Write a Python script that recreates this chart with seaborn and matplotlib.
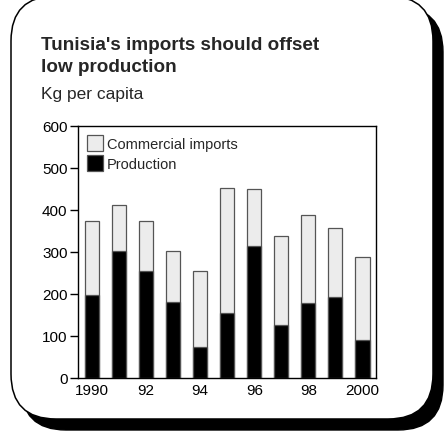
import matplotlib
matplotlib.use("Agg")
import matplotlib.pyplot as plt
from matplotlib.patches import FancyBboxPatch, Patch
import seaborn as sns

years = ["1990", "1991", "1992", "1993", "1994", "1995", "1996", "1997", "1998", "1999", "2000"]
production = [196, 301, 254, 181, 74, 154, 315, 126, 178, 193, 90]
imports = [177, 110, 120, 121, 181, 299, 136, 212, 209, 164, 198]
tick_labels = ["1990", "", "92", "", "94", "", "96", "", "98", "", "2000"]
yticks = [0, 100, 200, 300, 400, 500, 600]

title_lines = ["Tunisia's imports should offset", "low production"]
subtitle = "Kg per capita"
legend_labels = ["Commercial imports", "Production"]

sns.set_style("white")
plt.rcParams["font.family"] = ["Liberation Sans", "DejaVu Sans"]

W, H = 445, 435
fig = plt.figure(figsize=(W / 100, H / 100), dpi=100)

# background frame axes in pixel units
bg = fig.add_axes([0, 0, 1, 1], zorder=0)
bg.set_xlim(0, W)
bg.set_ylim(H, 0)
bg.axis("off")
x0, y0, x1, y1, r = 11, -3, 433, 420, 45
shadow = FancyBboxPatch((x0 + r + 10, y0 + r + 11), (x1 - x0) - 2 * r, (y1 - y0) - 2 * r,
                        boxstyle=f"round,pad={r},rounding_size={r}",
                        facecolor="black", edgecolor="black", linewidth=1.0)
box = FancyBboxPatch((x0 + r, y0 + r), (x1 - x0) - 2 * r, (y1 - y0) - 2 * r,
                     boxstyle=f"round,pad={r},rounding_size={r}",
                     facecolor="white", edgecolor="black", linewidth=1.1)
bg.add_patch(shadow)
bg.add_patch(box)

bg.text(41, 50, title_lines[0], fontsize=13.6, fontweight="bold", va="baseline", ha="left")
bg.text(41, 72, title_lines[1], fontsize=13.6, fontweight="bold", va="baseline", ha="left")
bg.text(41, 99.5, subtitle, fontsize=12.5, va="baseline", ha="left")

# main chart axes
left, right = 78 / W, 376 / W
bottom, top = 1 - 378.7 / H, 1 - 127 / H
ax = fig.add_axes([left, bottom, right - left, top - bottom], zorder=1)
ax.patch.set_alpha(0)

totals = [p + i for p, i in zip(production, imports)]
imp_color = "#ececec"
edge = "#555555"
sns.barplot(x=years, y=totals, color=imp_color, saturation=1, edgecolor=edge,
            linewidth=0.9, width=0.52, ax=ax)
sns.barplot(x=years, y=production, color="black", saturation=1, edgecolor=edge,
            linewidth=0.9, width=0.52, ax=ax)

ax.set_xlim(-0.52, 10.5)
ax.set_ylim(0, 600)
ax.set_yticks(yticks)
ax.set_yticklabels([str(v) for v in yticks], fontsize=11)
ax.set_xticks(range(len(years)))
ax.set_xticklabels(tick_labels, fontsize=11)
ax.set_xlabel("")
ax.set_ylabel("")
ax.tick_params(axis="y", direction="out", length=5.5, width=1, pad=2, left=True, colors="black")
ax.tick_params(axis="x", length=0, pad=4, colors="black")
for s in ax.spines.values():
    s.set_visible(True)
    s.set_color("black")
    s.set_linewidth(1.0)

handles = [Patch(facecolor=imp_color, edgecolor=edge, linewidth=0.9),
           Patch(facecolor="black", edgecolor=edge, linewidth=0.9)]
ax.legend(handles, legend_labels, loc="upper left", frameon=False, fontsize=10.5,
          handlelength=1.07, handleheight=1.25, handletextpad=0.25, labelspacing=0.3,
          borderaxespad=0.45, borderpad=0.2)

fig.savefig("out.png", dpi=100)
